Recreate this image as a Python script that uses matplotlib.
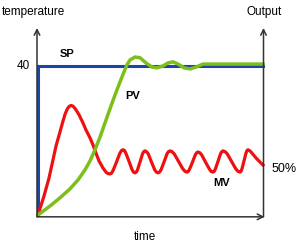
import numpy as np
import matplotlib
matplotlib.use('Agg')
import matplotlib.pyplot as plt

plt.rcParams['font.family'] = ['Liberation Sans', 'DejaVu Sans']

# setpoint
sp_level = 40

# PV (temperature)
pv_t = [0, 12, 22, 32, 40, 47, 52, 57, 62, 67, 72, 77, 82, 86, 89, 92, 97, 102, 108,
        114, 119, 125, 130, 135, 140, 146, 152, 158, 165, 182, 225]
pv_T = [0, 2.4, 4.6, 7.0, 9.4, 12.1, 14.5, 17.5, 20.9, 24.7, 28.5, 32.2, 35.7, 38.4,
        40.3, 41.6, 42.4, 42.2, 40.8, 39.7, 39.5, 40.0, 40.8, 41.1, 40.5, 39.5, 39.2,
        39.7, 40.5, 40.5, 40.5]

# MV (output)
mv_t = [0, 6, 11, 15, 18, 22, 25, 27, 29, 31, 33, 35, 37, 39, 41, 45, 48, 52, 55, 58,
        61, 65, 68, 70, 72, 73.5, 75, 78.5, 81.75, 83.5, 85, 86.5, 88, 91, 94, 95.5,
        97, 98.3, 99.5, 102, 104.5, 105.8, 107, 108.5, 110.25, 113.5, 116.75, 118.4,
        120, 121.5, 123, 126, 129, 130.5, 132, 134, 136.25, 140.5, 144.75, 147, 149,
        150.4, 151.75, 154.5, 157.25, 158.6, 160, 161.8, 163.75, 167.5, 171.25, 173,
        175, 176.2, 177.5, 180, 182.5, 183.8, 185, 187, 189.25, 193.5, 197.75, 200,
        202, 203, 204, 206, 208, 209, 210, 212, 214, 218, 222, 225]
mv_T = [0, 5.1, 9.9, 14.8, 18.5, 22.3, 25.2, 27.0, 28.3, 29.1, 29.4, 29.2, 28.6, 27.8,
        26.9, 24.7, 22.8, 20.7, 18.8, 16.6, 14.5, 12.6, 11.5, 11.1, 11.0, 11.2, 11.9,
        14.2, 16.5, 17.3, 17.5, 17.3, 16.5, 14.4, 12.2, 11.5, 11.3, 11.5, 12.1, 14.2,
        16.4, 17.0, 17.2, 17.0, 16.4, 14.2, 12.1, 11.5, 11.3, 11.5, 12.1, 14.2, 16.4,
        17.0, 17.2, 17.0, 16.4, 14.4, 12.4, 11.7, 11.5, 11.7, 12.4, 14.2, 16.1, 16.7,
        16.9, 16.7, 16.1, 14.2, 12.4, 11.7, 11.5, 11.7, 12.4, 14.4, 16.4, 17.0, 17.2,
        17.0, 16.4, 14.4, 12.4, 11.7, 11.5, 11.7, 12.4, 14.5, 16.6, 17.3, 17.5, 17.2,
        16.6, 15.3, 14.2, 13.4]

fig = plt.figure(figsize=(3.02, 2.47), dpi=100)
ax = fig.add_axes([0, 0, 1, 1])
ax.set_xlim(-38, 264)
ax.set_ylim(-8.6, 57.7)
ax.axis('off')

axcol = '#333333'
arw = dict(arrowstyle='->', color=axcol, lw=1.1, mutation_scale=10, shrinkA=0, shrinkB=0)
# left, right and bottom axes
ax.annotate('', xy=(-1, 50.2), xytext=(-1, -0.5), arrowprops=arw)
ax.annotate('', xy=(225.5, 50.2), xytext=(225.5, -0.5), arrowprops=arw)
ax.annotate('', xy=(226.5, -0.5), xytext=(-1, -0.5), arrowprops=arw)

# SP
ax.plot([0, 0, 225], [0, sp_level, sp_level], color='#1a47a6', lw=2.2, solid_joinstyle='miter')
ax.plot(mv_t, mv_T, color='#ee1111', lw=2.3, solid_joinstyle='round')
ax.plot(pv_t, pv_T, color='#7cbf1a', lw=2.5, solid_joinstyle='round')

ax.text(-5, 54.5, 'temperature', ha='center', va='center', fontsize=8.5)
ax.text(226, 54.5, 'Output', ha='center', va='center', fontsize=8.5)
ax.text(-15, 40, '40', ha='center', va='center', fontsize=8.5)
ax.text(107, -5.9, 'time', ha='center', va='center', fontsize=8.5)
ax.text(246, 12.4, '50%', ha='center', va='center', fontsize=9)
ax.text(29, 43.2, 'SP', ha='center', va='center', fontsize=8, fontweight='bold')
ax.text(95, 32.0, 'PV', ha='center', va='center', fontsize=8, fontweight='bold')
ax.text(184, 8.6, 'MV', ha='center', va='center', fontsize=8, fontweight='bold')

fig.savefig('out.png', dpi=100)
